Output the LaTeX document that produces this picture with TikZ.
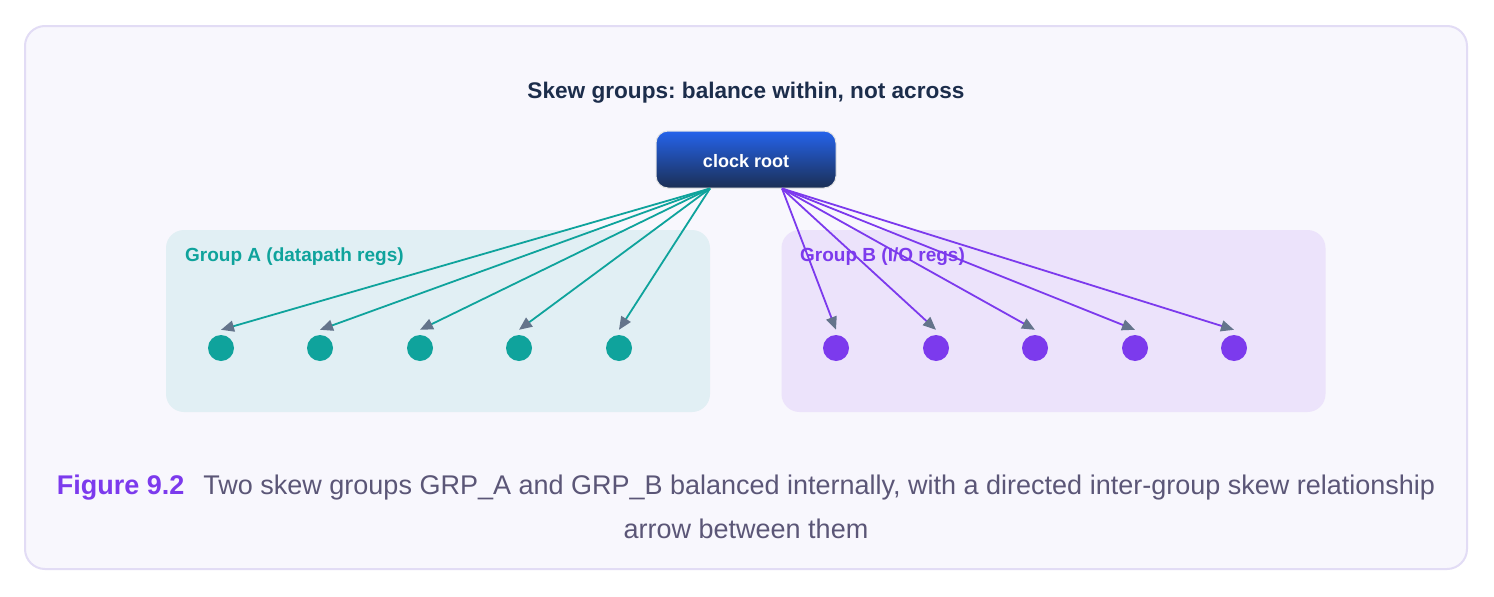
\documentclass[tikz,border=0pt]{standalone}
\usepackage{fontspec}
\setmainfont{Liberation Sans}
\usetikzlibrary{arrows.meta,calc}
\frenchspacing
\definecolor{framefill}{HTML}{F8F7FD}
\definecolor{framedraw}{HTML}{E2DCF5}
\definecolor{titlecol}{HTML}{1C2D4B}
\definecolor{tealc}{HTML}{0FA39C}
\definecolor{purplec}{HTML}{7C3AED}
\definecolor{gAfill}{HTML}{E1EFF4}
\definecolor{gBfill}{HTML}{ECE3FB}
\definecolor{tipgray}{HTML}{64748B}
\definecolor{capgray}{HTML}{5B5677}
\definecolor{rootTop}{HTML}{2563EB}
\definecolor{rootBot}{HTML}{1B2F55}
\begin{document}
\begin{tikzpicture}[x=1pt,y=-1pt,
  groupbox/.style={draw=none,rounded corners=18pt,minimum width=544pt,minimum height=182pt,inner sep=0pt},
  grouplabel/.style={anchor=base west,font=\fontsize{19}{22}\selectfont\bfseries,inner sep=0pt},
  dotA/.style={circle,fill=tealc,minimum size=26pt,inner sep=0pt},
  dotB/.style={circle,fill=purplec,minimum size=26pt,inner sep=0pt},
  edgeA/.style={draw=tealc,line width=1.8pt,-{Triangle[length=13pt,width=11pt,color=tipgray]}},
  edgeB/.style={draw=purplec,line width=1.8pt,-{Triangle[length=13pt,width=11pt,color=tipgray]}},
  rootbox/.style={rounded corners=12pt,minimum width=180pt,minimum height=57pt,top color=rootTop,bottom color=rootBot,draw=white!80!gray,line width=1pt,text=white,text height=16pt,text depth=0pt,font=\fontsize{18}{20}\selectfont\bfseries}
]
\useasboundingbox (0,0) rectangle (1494,597);
\fill[white] (0,0) rectangle (1494,597);
\draw[framedraw,fill=framefill,line width=2pt,rounded corners=20pt] (25,26) rectangle (1467,569);

\node[anchor=base,text=titlecol,font=\fontsize{22.6}{26}\selectfont\bfseries] (title) at (746,98) {Skew groups: balance within, not across};

\node[groupbox,fill=gAfill] (gA) at (438,321) {};
\node[groupbox,fill=gBfill] (gB) at (1053.5,321) {};
\node[grouplabel,text=tealc] (lA) at (185,261) {Group A (datapath regs)};
\node[grouplabel,text=purplec] (lB) at (800,261) {Group B (I/O regs)};

\node[rootbox] (root) at (746,159.5) {clock root};
\coordinate (rA) at ($(root.south)+(-36,0)$);
\coordinate (rB) at ($(root.south)+(36,0)$);

\node[dotA] (a1) at (221,348) {};
\node[dotA] (a2) at (320,348) {};
\node[dotA] (a3) at (420,348) {};
\node[dotA] (a4) at (519,348) {};
\node[dotA] (a5) at (619,348) {};
\node[dotB] (b1) at (836,348) {};
\node[dotB] (b2) at (936,348) {};
\node[dotB] (b3) at (1035,348) {};
\node[dotB] (b4) at (1135,348) {};
\node[dotB] (b5) at (1234,348) {};

\foreach \n in {1,...,5}{
  \draw[edgeA] (rA) -- ($(a\n.north)+(0,-5)$);
  \draw[edgeB] (rB) -- ($(b\n.north)+(0,-5)$);
}

\node[anchor=base,text=capgray,font=\fontsize{27}{30}\selectfont,inner sep=0pt] (cap1) at (746,494.5)
  {\textcolor{purplec}{\bfseries Figure 9.2}\hspace{19pt}Two skew groups GRP\_A and GRP\_B balanced internally, with a directed inter-group skew relationship};
\node[anchor=base,text=capgray,font=\fontsize{27}{30}\selectfont,inner sep=0pt] (cap2) at (746,538.5) {arrow between them};
\end{tikzpicture}
\end{document}
